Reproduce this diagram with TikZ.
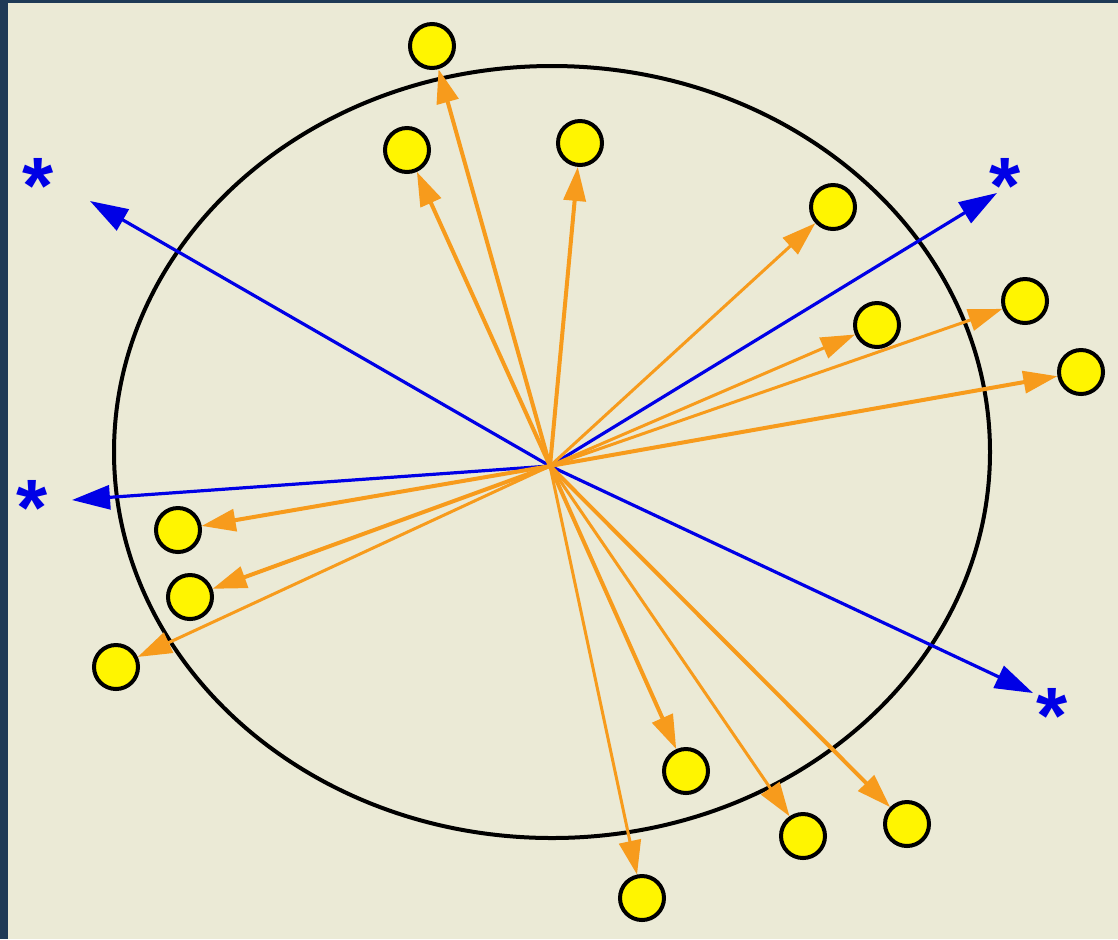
\documentclass[tikz,border=0pt]{standalone}
\usepackage{fontspec}
\setmainfont{Liberation Sans}
\usetikzlibrary{arrows.meta}

\definecolor{frame}{RGB}{31,58,86}
\definecolor{paper}{RGB}{235,234,214}
\definecolor{ray}{RGB}{247,155,28}
\definecolor{axis}{RGB}{0,0,230}
\definecolor{dot}{RGB}{255,245,0}

\begin{document}
\begin{tikzpicture}[
      x=0.5pt, y=-0.5pt,
      point/.style={circle, draw, line width=2pt, fill=dot, minimum size=22pt, inner sep=0pt},
      spoke/.style={draw=ray, line width=2pt, -{Triangle[length=17pt, width=11pt]}},
      dir/.style={draw=axis, line width=1.6pt, -{Triangle[length=19pt, width=12pt]}},
      star/.style={text=axis, font=\bfseries\fontsize{40}{40}\selectfont, inner sep=0pt}
    ]

    % frame and paper
    \fill[frame] (0,0) rectangle (1118,939);
    \fill[paper] (8,3) rectangle (1118,939);
    \useasboundingbox (0,0) rectangle (1118,939);

    \draw[line width=2pt] (552,452) ellipse [x radius=438, y radius=386];

    \coordinate (o) at (550,466);

    % yellow points
    \node[point] (p1) at (432,46) {};
    \node[point] (p2) at (407,150) {};
    \node[point] (p3) at (580,143) {};
    \node[point] (p4) at (833,207) {};
    \node[point] (p5) at (877,325) {};
    \node[point] (p6) at (1025,301) {};
    \node[point] (p7) at (1081,372) {};
    \node[point] (p8) at (178,530) {};
    \node[point] (p9) at (190,597) {};
    \node[point] (p10) at (116,667) {};
    \node[point] (p11) at (686,771) {};
    \node[point] (p12) at (803,836) {};
    \node[point] (p13) at (907,824) {};
    \node[point] (p14) at (642,898) {};

    % blue directions
    \coordinate (d1) at (90,201);
    \coordinate (d2) at (997,193);
    \coordinate (d3) at (72,500);
    \coordinate (d4) at (1033,693);
    \node[star] (s1) at (38,186) {*};
    \node[star] (s2) at (1005,186) {*};
    \node[star] (s3) at (32,508) {*};
    \node[star] (s4) at (1052,716) {*};

    \draw[dir] (o) -- (d1);
    \draw[dir] (o) -- (d2);
    \draw[dir] (o) -- (d3);
    \draw[dir] (o) -- (d4);

    % orange rays
    \draw[spoke] (o) -- (p1);
    \draw[spoke] (o) -- (p2);
    \draw[spoke] (o) -- (p3);
    \draw[spoke, line width=1.5pt] (o) -- (p4);
    \draw[spoke, line width=1.5pt] (o) -- (p5);
    \draw[spoke, line width=1.5pt] (o) -- (p6);
    \draw[spoke] (o) -- (p7);
    \draw[spoke] (o) -- (p8);
    \draw[spoke] (o) -- (p9);
    \draw[spoke, line width=1.5pt] (o) -- (p10);
    \draw[spoke] (o) -- (p11);
    \draw[spoke, line width=1.5pt] (o) -- (p12);
    \draw[spoke] (o) -- (p13);
    \draw[spoke, line width=1.5pt] (o) -- (p14);
  \end{tikzpicture}
\end{document}
